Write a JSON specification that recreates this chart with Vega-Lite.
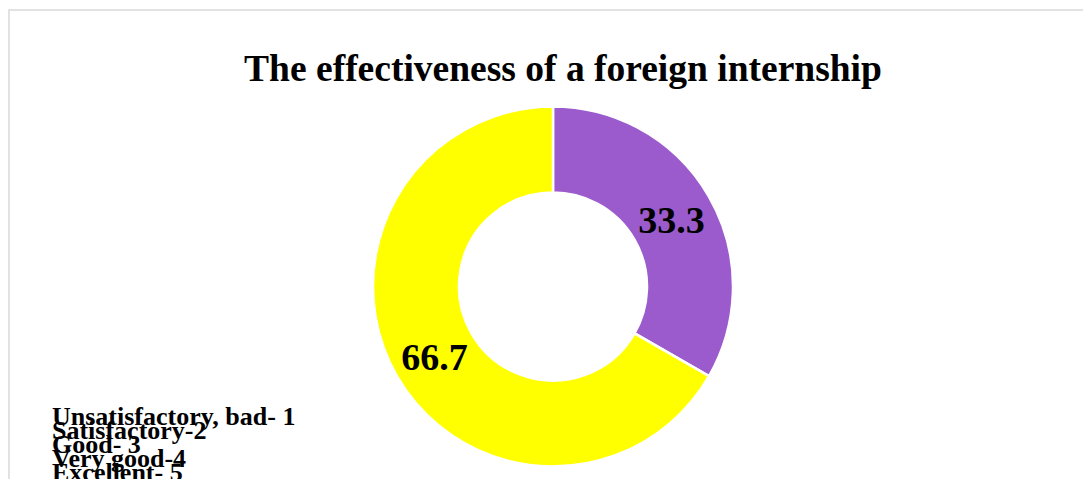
{
  "$schema": "https://vega.github.io/schema/vega-lite/v6.json",
  "autosize": "none",
  "padding": {"left": 9, "top": 10, "right": 0, "bottom": 0},
  "width": 1088,
  "height": 553,
  "background": "white",
  "view": {"stroke": "#d9d9d9", "strokeWidth": 1.5},
  "config": {
    "view": {"stroke": "#d9d9d9", "strokeWidth": 1.5},
    "font": "Liberation Serif",
    "style": {"guide-label": {"lineHeight": 14}}
  },
  "title": {
    "text": "The effectiveness of a foreign internship",
    "font": "Liberation Serif",
    "fontSize": 37.5,
    "fontWeight": "bold",
    "color": "black",
    "anchor": "middle",
    "orient": "top",
    "offset": -78,
    "dx": 10
  },
  "data": {
    "values": [
      {"category": "Unsatisfactory, bad- 1", "value": 0, "order": 1},
      {"category": "Satisfactory-2", "value": 0, "order": 2},
      {"category": "Good- 3", "value": 0, "order": 3},
      {"category": "Very good-4", "value": 33.3, "order": 4},
      {"category": "Excellent- 5", "value": 66.7, "order": 5}
    ]
  },
  "encoding": {
    "theta": {"field": "value", "type": "quantitative", "stack": true},
    "order": {"field": "order", "type": "quantitative"}
  },
  "layer": [
    {
      "mark": {"type": "arc", "outerRadius": 180, "innerRadius": 94, "stroke": "white", "strokeWidth": 2.5},
      "encoding": {
        "color": {
          "field": "category",
          "type": "nominal",
          "sort": ["Unsatisfactory, bad- 1", "Satisfactory-2", "Good- 3", "Very good-4", "Excellent- 5"],
          "scale": {
            "domain": ["Unsatisfactory, bad- 1", "Satisfactory-2", "Good- 3", "Very good-4", "Excellent- 5"],
            "range": ["#4472c4", "#ed7d31", "#a5a5a5", "#9b5bcd", "#ffff00"]
          },
          "legend": {
            "title": null,
            "orient": "none",
            "legendX": 17,
            "legendY": 402,
            "values": ["Unsatisfactory, bad- 1"],
            "labelExpr": "['Unsatisfactory, bad- 1', 'Satisfactory-2', 'Good- 3', 'Very good-4', 'Excellent- 5']",
            "symbolSize": 0,
            "symbolOpacity": 0,
            "symbolStrokeWidth": 0,
            "labelOffset": 0,
            "labelFont": "Liberation Serif",
            "labelFontWeight": "bold",
            "labelFontSize": 26,
            "labelColor": "black",
            "labelLimit": 0,
            "labelBaseline": "alphabetic",
            "encode": {
              "labels": {
                "enter": {"lineHeight": {"value": 14}},
                "update": {"lineHeight": {"value": 14}}
              }
            }
          }
        }
      }
    },
    {
      "transform": [{"filter": "datum.value > 0"}],
      "mark": {"type": "text", "radius": 137, "dy": 4, "font": "Liberation Serif", "fontWeight": "bold", "fontSize": 38, "color": "black"},
      "encoding": {
        "text": {"field": "value", "type": "quantitative", "format": ".1f"}
      }
    }
  ]
}
